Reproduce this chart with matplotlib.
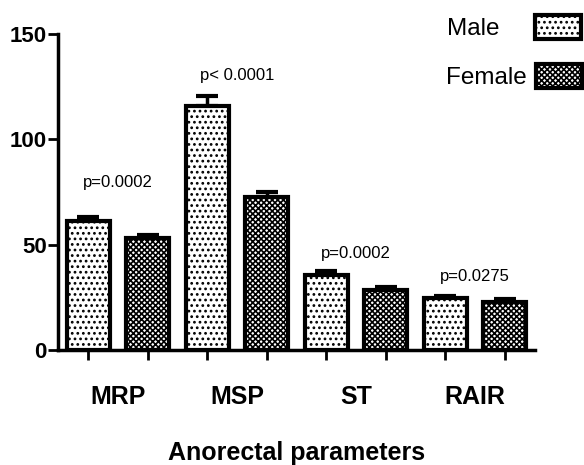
import matplotlib.pyplot as plt
import numpy as np

plt.rcParams['font.family'] = ['Liberation Sans', 'DejaVu Sans']
plt.rcParams['hatch.linewidth'] = 1.2

# data
params = ['MRP', 'MSP', 'ST', 'RAIR']
male = [61, 116, 35.5, 24.5]
male_err = [2, 4.5, 2, 1]
female = [53, 72.5, 28.5, 23]
female_err = [1.5, 2.5, 1.5, 1]
p_labels = ['p=0.0002', 'p< 0.0001', 'p=0.0002', 'p=0.0275']
p_y = [79.5, 130.5, 46, 35]

x = np.arange(len(params))
off = 0.25
w = 0.36

fig = plt.figure(figsize=(5.84, 4.65), dpi=100)
ax = fig.add_axes([58 / 584, 115 / 465, (535 - 58) / 584, (350 - 34) / 465])

b1 = ax.bar(x - off, male, w, facecolor='white', edgecolor='black',
            linewidth=3, hatch='...', label='Male', zorder=2)
b2 = ax.bar(x + off, female, w, facecolor='white', edgecolor='black',
            linewidth=3, hatch='xxxxxx', label='Female', zorder=2)

ax.errorbar(x - off, male, yerr=[np.zeros(4), male_err], fmt='none',
            ecolor='black', elinewidth=2.5, capsize=8, capthick=3, zorder=1)
ax.errorbar(x + off, female, yerr=[np.zeros(4), female_err], fmt='none',
            ecolor='black', elinewidth=2.5, capsize=8, capthick=3, zorder=1)

for xi, txt, yi in zip(x, p_labels, p_y):
    ax.text(xi, yi, txt, ha='center', va='center', fontsize=12)

ax.set_xlim(-0.504, 3.504)
ax.set_ylim(0, 150)
ax.set_yticks([0, 50, 100, 150])
for lab in ax.get_yticklabels():
    lab.set_fontweight('bold')
ax.tick_params(axis='y', labelsize=16, length=7, width=2, pad=1)

bar_pos = np.sort(np.concatenate([x - off, x + off]))
ax.set_xticks(bar_pos)
ax.set_xticklabels([''] * len(bar_pos))
ax.tick_params(axis='x', which='major', length=7, width=2)
ax.set_xticks(x, minor=True)
ax.set_xticklabels(params, minor=True, fontsize=18, fontweight='bold')
ax.tick_params(axis='x', which='minor', length=0, pad=25)

ax.set_xlabel('Anorectal parameters', fontsize=18, fontweight='bold', labelpad=23)

for s in ['top', 'right']:
    ax.spines[s].set_visible(False)
for s in ['left', 'bottom']:
    ax.spines[s].set_linewidth(2.5)

# two single-entry legends so the labels line up on the left
leg_kw = dict(loc='upper left', frameon=False, markerfirst=False, fontsize=17.5,
              handlelength=1.9, handleheight=1.15, borderaxespad=0, borderpad=0)
fig.legend(handles=[b1], bbox_to_anchor=(447 / 584, 1 - 15 / 465),
           handletextpad=1.44, **leg_kw)
fig.legend(handles=[b2], bbox_to_anchor=(446 / 584, 1 - 64 / 465),
           handletextpad=0.37, **leg_kw)

plt.savefig('out.png', dpi=100)
